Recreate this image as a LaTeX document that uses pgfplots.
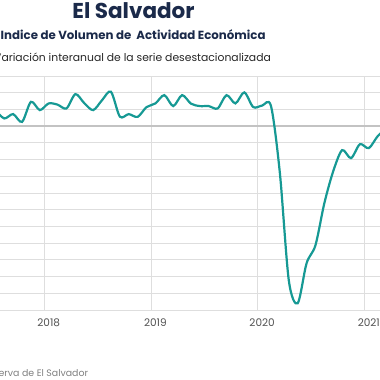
\documentclass[border=0pt]{standalone}
\usepackage{pgfplots}
\pgfplotsset{compat=1.18}
\usepackage{fontspec}
\setmainfont{Poppins}
\definecolor{navy}{RGB}{27,42,74}
\definecolor{teal1}{RGB}{22,153,148}
\definecolor{gridc}{RGB}{222,222,222}
\definecolor{zeroc}{RGB}{195,195,195}
\definecolor{tickc}{RGB}{80,80,80}
\begin{document}
\begin{tikzpicture}[x=1pt,y=1pt]
\path[use as bounding box] (0,0) rectangle (380,-380);
\clip (0,0) rectangle (380,-380);
\begin{axis}[
  at={(0pt,-310pt)}, anchor=south west,
  scale only axis, width=380pt, height=234pt,
  xmin=-5.48, xmax=37.26, ymin=-22, ymax=6,
  axis line style={draw=none},
  major tick length=0pt,
  ytick={-22,-20,...,6}, yticklabels={},
  ymajorgrids, grid style={gridc, line width=0.8pt},
  xtick={0,12,24,36}, xticklabels={2018,2019,2020,2021},
  xticklabel style={font=\fontsize{10.5}{12}\selectfont, text=tickc, yshift=-5.5pt},
  extra x ticks={-0.5,11.5,23.5,35.5}, extra x tick labels={},
  extra x tick style={xmajorgrids, grid style={gridc, line width=0.7pt}},
  extra y ticks={0}, extra y tick labels={},
  extra y tick style={ymajorgrids, grid style={zeroc, line width=1.7pt}},
  clip=true,
]
\addplot[teal1, line width=2.2pt, smooth, tension=0.5] coordinates {
(-6,1.9) (-5,0.92) (-4,1.44) (-3,0.51) (-2,2.91) (-1,1.92) (0,2.72) (1,2.57)
(2,2.12) (3,3.83) (4,2.75) (5,1.92) (6,3.11) (7,4.11) (8,1.14) (9,1.44)
(10,1.11) (11,2.28) (12,2.72) (13,3.71) (14,2.40) (15,3.71) (16,2.69) (17,2.40)
(18,2.40) (19,2.12) (20,3.71) (21,2.72) (22,4.04) (23,2.28) (24,2.46) (25,2.40)
(26,-5.63) (27,-18.44) (28,-21.2) (29,-16.41) (30,-14.25) (31,-9.22) (32,-5.39)
(33,-2.87) (34,-3.83) (35,-2.16) (36,-2.63) (37,-1.20) (38,-0.24)
};
\end{axis}
\node[anchor=base, text=navy, font=\fontsize{21.5}{24}\selectfont\bfseries, inner sep=0pt] at (133.5,-18.5) {El Salvador};
\node[anchor=base west, text=navy, font=\fontsize{11.8}{14}\selectfont\bfseries, inner sep=0pt] at (0.5,-39.5) {Indice de Volumen de\ \ Actividad Económica};
\node[anchor=base west, text=black!85, font=\fontsize{10.8}{13}\selectfont, inner sep=0pt] at (-6,-61.5) {Variación interanual de la serie desestacionalizada};
\node[anchor=base east, text=black!50, font=\fontsize{9.4}{11}\selectfont, inner sep=0pt] at (88.3,-376.7) {Fuente: Banco Central de Reserva de El Salvador};
\end{tikzpicture}
\end{document}
